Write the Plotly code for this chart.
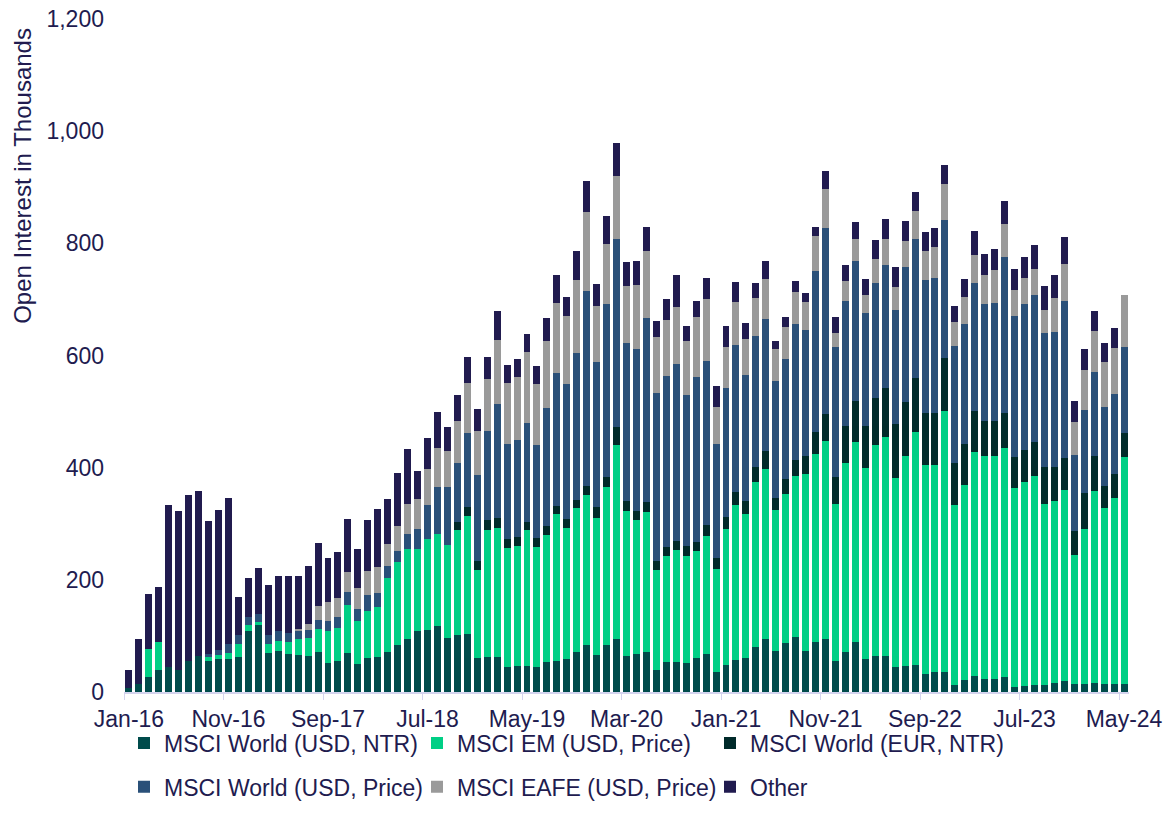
import plotly.graph_objects as go
import pandas as pd

months = [d.strftime("%b-%y") for d in pd.date_range("2016-01-01", "2024-05-01", freq="MS")]

world_usd_ntr = [8, 15, 27, 40, 44, 39, 55, 65, 55, 59, 59, 63, 109, 120, 70, 73, 68, 66, 64, 71,
                 52, 56, 70, 50, 61, 63, 71, 83, 94, 108, 111, 117, 96, 101, 104, 60, 62, 62, 45, 47,
                 47, 44, 53, 56, 59, 71, 83, 66, 83, 94, 64, 67, 71, 39, 53, 53, 52, 60, 67, 36,
                 49, 57, 60, 81, 94, 74, 87, 98, 74, 90, 95, 56, 72, 90, 59, 64, 65, 45, 47, 48,
                 32, 36, 36, 13, 22, 29, 24, 24, 26, 9, 11, 13, 13, 16, 20, 15, 15, 16, 15, 15, 15]
em_usd_price = [0, 0, 50, 50, 0, 0, 0, 0, 8, 7, 11, 23, 11, 5, 16, 18, 22, 28, 32, 42,
                57, 59, 85, 76, 84, 88, 132, 149, 161, 147, 161, 165, 166, 187, 209, 158, 227, 231, 212, 214,
                241, 215, 227, 261, 233, 257, 269, 244, 283, 346, 259, 239, 250, 178, 190, 200, 191, 191, 211, 183,
                241, 276, 257, 293, 303, 250, 266, 287, 315, 334, 352, 280, 336, 356, 340, 377, 389, 336, 373, 415,
                372, 368, 465, 321, 347, 399, 396, 396, 409, 354, 363, 372, 322, 324, 340, 229, 276, 343, 313, 331, 404]
world_eur_ntr = [0] * 33 + [16, 17, 16, 17, 17, 16, 16,
                 15, 15, 16, 15, 16, 14, 16, 19, 17, 33, 17, 17, 17, 16, 16, 17, 17, 17, 20, 20,
                 22, 24, 23, 28, 32, 22, 26, 29, 32, 40, 49, 47, 66, 72, 75, 84, 88, 96, 97, 97,
                 93, 94, 95, 75, 73, 73, 63, 63, 63, 56, 57, 60, 67, 61, 57, 43, 63, 61, 40, 43, 43]
world_usd_price = [0, 0, 0, 0, 0, 0, 0, 0, 5, 9, 16, 16, 14, 14, 16, 17, 15, 16, 14, 15,
                   18, 18, 24, 22, 28, 26, 21, 20, 26, 36, 62, 83, 103, 104, 131, 153, 159, 203, 169, 172,
                   176, 167, 211, 236, 241, 262, 347, 259, 308, 334, 283, 289, 329, 300, 305, 314, 269, 294, 292, 204,
                   230, 261, 225, 232, 236, 209, 215, 243, 224, 286, 331, 232, 223, 250, 201, 204, 220, 204, 241, 248,
                   237, 241, 246, 208, 215, 229, 209, 211, 277, 252, 260, 262, 239, 241, 280, 136, 149, 150, 141, 142, 153]
eafe_usd_price = [0] * 17 + [2, 11, 26,
                  33, 34, 35, 38, 42, 46, 40, 44, 55, 53, 63, 70, 64, 75, 90, 78, 93, 114, 109, 112,
                  128, 109, 119, 126, 121, 131, 141, 101, 108, 113, 101, 113, 119, 100, 100, 102, 96, 107, 110, 66,
                  74, 78, 64, 69, 71, 56, 57, 57, 51, 63, 70, 26, 35, 40, 33, 43, 45, 42, 46, 49,
                  52, 54, 63, 43, 47, 49, 52, 59, 60, 45, 47, 47, 41, 60, 67, 59, 71, 73, 79, 83, 93]
other = [32, 79, 98, 98, 290, 283, 297, 293, 237, 250, 260, 67, 69, 82, 88, 99, 102, 95, 104, 111,
         79, 82, 95, 69, 91, 104, 81, 95, 98, 50, 56, 64, 44, 46, 47, 40, 40, 53, 32, 32,
         32, 31, 40, 49, 34, 51, 55, 38, 50, 59, 43, 43, 44, 29, 36, 57, 28, 28, 39, 36,
         36, 35, 29, 26, 32, 14, 18, 19, 15, 16, 32, 28, 30, 30, 29, 34, 36, 35, 35, 35,
         35, 35, 35, 29, 33, 43, 37, 37, 41, 39, 38, 43, 42, 42, 48, 36, 38, 37, 35, 35, 0]

series = [
    ("MSCI World (USD, NTR)", world_usd_ntr, "#004b4b", "legend"),
    ("MSCI EM (USD, Price)", em_usd_price, "#00cf85", "legend"),
    ("MSCI World (EUR, NTR)", world_eur_ntr, "#002a2a", "legend"),
    ("MSCI World (USD, Price)", world_usd_price, "#2a5079", "legend2"),
    ("MSCI EAFE (USD, Price)", eafe_usd_price, "#9a9a9a", "legend2"),
    ("Other", other, "#211b4f", "legend2"),
]

TXT = "#211b4f"
FONT = "Liberation Sans, Arial, sans-serif"
FS = 23

fig = go.Figure()
for name, vals, color, leg in series:
    fig.add_trace(go.Bar(x=months, y=vals, name=name, marker=dict(color=color, line=dict(width=0)),
                         legend=leg))

legend_common = dict(orientation="h", x=0.0, xanchor="left", yanchor="middle",
                     entrywidth=248, entrywidthmode="pixels", itemwidth=30,
                     bgcolor="rgba(0,0,0,0)", font=dict(size=FS, color=TXT), traceorder="normal")

fig.update_layout(
    width=1164, height=828,
    barmode="stack", bargap=0.3,
    plot_bgcolor="white", paper_bgcolor="white",
    margin=dict(l=124, r=35, t=19, b=136, autoexpand=False),
    font=dict(family=FONT, size=FS, color=TXT),
    xaxis=dict(type="category", range=[-0.5, 100.5], tickmode="linear", tick0=0, dtick=10,
               tickson="boundaries", ticks="outside", ticklen=6, tickcolor="#d4d4ee",
               showline=True, linecolor="#d4d4ee", linewidth=1.5, showgrid=False,
               tickangle=0, automargin=False, ticklabeloverflow="allow",
               tickfont=dict(size=FS, color=TXT), ticklabelstandoff=6),
    yaxis=dict(range=[0, 1200], dtick=200, tickformat=",", showgrid=False, zeroline=False,
               showline=False, ticks="", automargin=False, ticklabeloverflow="allow",
               tickfont=dict(size=FS, color=TXT), ticklabelstandoff=19),
    legend=dict(legend_common, y=-0.076),
    legend2=dict(legend_common, y=-0.141),
    annotations=[dict(text="Open Interest in Thousands", xref="paper", yref="paper",
                      x=-0.1005, y=0.767, xanchor="center", yanchor="middle", textangle=-90,
                      showarrow=False, font=dict(size=24, color=TXT))],
)

fig.write_html("out.html", config={"displayModeBar": False},
               post_script="document.body.style.margin='0';")
